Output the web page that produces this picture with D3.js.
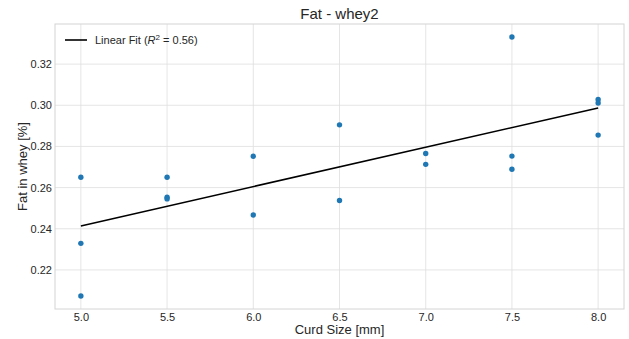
<!DOCTYPE html>
<html>
<head>
<meta charset="utf-8">
<script src="https://cdn.jsdelivr.net/npm/d3@7"></script>
<style>
  body { margin: 0; background: #fff; }
  text { font-family: "Liberation Sans", Arial, sans-serif; fill: #262626; }
</style>
</head>
<body>
<svg width="629" height="339"></svg>
<script>
// curd size [mm] and fat in whey [%]
var curdSize = [5.0, 5.0, 5.0, 5.5, 5.5, 5.5, 6.0, 6.0, 6.5, 6.5, 7.0, 7.0, 7.5, 7.5, 7.5, 8.0, 8.0, 8.0];
var fatWhey = [0.265, 0.2329, 0.2073, 0.265, 0.2553, 0.2545, 0.2752, 0.2467, 0.2905, 0.2537,
               0.2766, 0.2713, 0.3332, 0.2753, 0.2689, 0.3028, 0.3011, 0.2855];
var xTicks = [5.0, 5.5, 6.0, 6.5, 7.0, 7.5, 8.0];
var yTicks = [0.22, 0.24, 0.26, 0.28, 0.30, 0.32];

var svg = d3.select('svg');
var margin = {left: 55, right: 5, top: 24, bottom: 30};
var width = 629 - margin.left - margin.right;
var height = 339 - margin.top - margin.bottom;

// matplotlib style 5% padding
var pad = function(ext) {
  var d = (ext[1] - ext[0]) * 0.05;
  return [ext[0] - d, ext[1] + d];
};

var x = d3.scaleLinear().domain(pad(d3.extent(curdSize))).range([0, width]);
var y = d3.scaleLinear().domain(pad(d3.extent(fatWhey))).range([height, 0]);

var g = svg.append('g').attr('transform', 'translate(' + margin.left + ',' + margin.top + ')');

// grid
g.append('g').selectAll('line').data(xTicks).enter().append('line')
  .attr('x1', function(d) { return x(d); }).attr('x2', function(d) { return x(d); })
  .attr('y1', 0).attr('y2', height)
  .attr('stroke', '#dedede').attr('stroke-width', 0.8);
g.append('g').selectAll('line').data(yTicks).enter().append('line')
  .attr('y1', function(d) { return y(d); }).attr('y2', function(d) { return y(d); })
  .attr('x1', 0).attr('x2', width)
  .attr('stroke', '#dedede').attr('stroke-width', 0.8);

// axes (no tick marks)
var xAxis = g.append('g').attr('transform', 'translate(0,' + height + ')')
  .call(d3.axisBottom(x).tickValues(xTicks).tickFormat(d3.format('.1f')).tickSize(0).tickPadding(4));
var yAxis = g.append('g')
  .call(d3.axisLeft(y).tickValues(yTicks).tickFormat(d3.format('.2f')).tickSize(0).tickPadding(3));
[xAxis, yAxis].forEach(function(a) {
  a.select('.domain').remove();
  a.selectAll('text').attr('font-size', 11).attr('fill', '#262626')
    .style('font-family', '"Liberation Sans", Arial, sans-serif');
});

// frame
g.append('rect').attr('width', width).attr('height', height)
  .attr('fill', 'none').attr('stroke', '#d4d4d4').attr('stroke-width', 1);

// least squares fit
var mx = d3.mean(curdSize), my = d3.mean(fatWhey);
var sxy = d3.sum(curdSize, function(v, i) { return (v - mx) * (fatWhey[i] - my); });
var sxx = d3.sum(curdSize, function(v) { return (v - mx) * (v - mx); });
var slope = sxy / sxx, icpt = my - slope * mx;
var xe = d3.extent(curdSize);
var fit = xe.map(function(v) { return [v, icpt + slope * v]; });

g.append('path').datum(fit)
  .attr('d', d3.line().x(function(d) { return x(d[0]); }).y(function(d) { return y(d[1]); }))
  .attr('fill', 'none').attr('stroke', '#000').attr('stroke-width', 1.6);

// points
g.append('g').selectAll('circle').data(curdSize).enter().append('circle')
  .attr('cx', function(d) { return x(d); })
  .attr('cy', function(d, i) { return y(fatWhey[i]); })
  .attr('r', 2.7)
  .attr('fill', '#1f77b4');

// legend
var leg = g.append('g').attr('transform', 'translate(10,16)');
leg.append('line').attr('x1', 0).attr('x2', 22).attr('y1', 0).attr('y2', 0)
  .attr('stroke', '#000').attr('stroke-width', 1.6);
var lt = leg.append('text').attr('x', 30).attr('y', 4).attr('font-size', 11);
lt.append('tspan').text('Linear Fit (');
lt.append('tspan').attr('font-style', 'italic').text('R');
lt.append('tspan').attr('font-size', 8).attr('dy', -4).text('2');
lt.append('tspan').attr('dy', 4).text(' = 0.56)');

// title and labels
svg.append('text').attr('x', margin.left + width / 2).attr('y', 19)
  .attr('text-anchor', 'middle').attr('font-size', 15).text('Fat - whey2');
svg.append('text').attr('x', margin.left + width / 2).attr('y', 334)
  .attr('text-anchor', 'middle').attr('font-size', 13).text('Curd Size [mm]');
svg.append('text').attr('transform', 'translate(27,' + (margin.top + height / 2) + ') rotate(-90)')
  .attr('text-anchor', 'middle').attr('font-size', 13).text('Fat in whey [%]');
</script>
</body>
</html>
